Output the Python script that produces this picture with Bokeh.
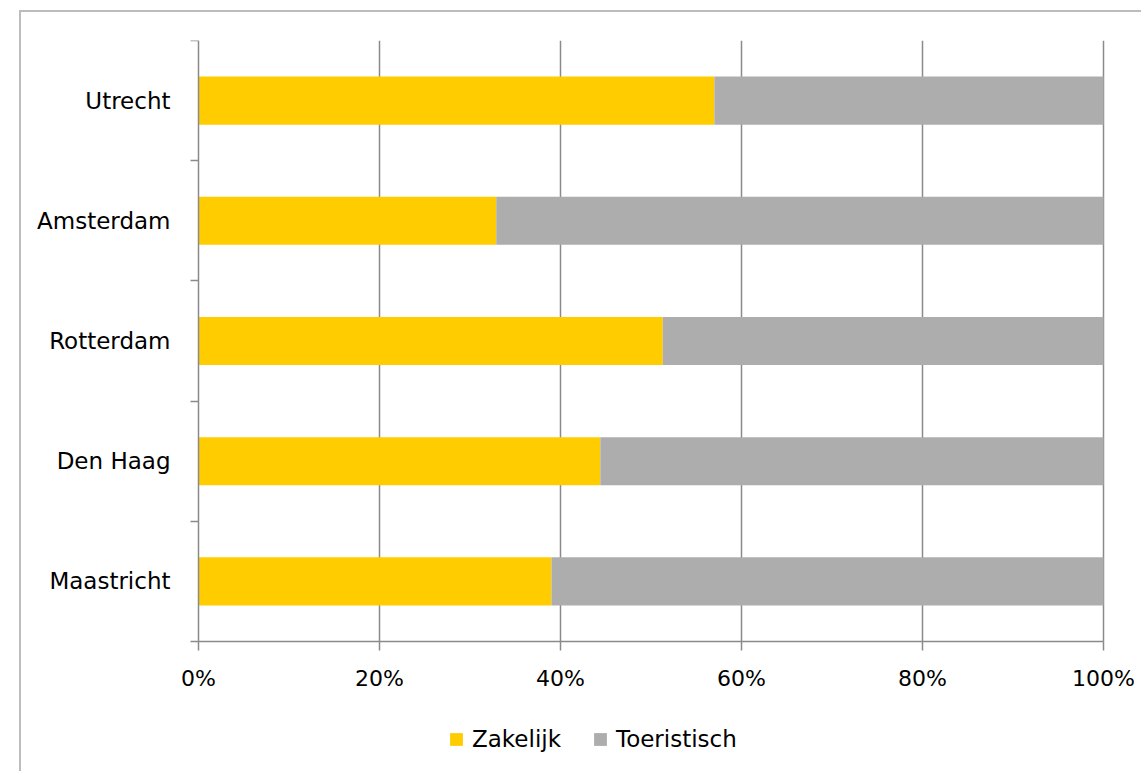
from bokeh.plotting import figure
from bokeh.models import ColumnDataSource, FixedTicker, Range1d, Legend, LegendItem
from bokeh.embed import file_html
from bokeh.resources import INLINE

# ---- data ----
cities = ["Utrecht", "Amsterdam", "Rotterdam", "Den Haag", "Maastricht"]
zakelijk = [57.0, 32.9, 51.3, 44.4, 39.0]
toeristisch = [43.0, 67.1, 48.7, 55.6, 61.0]
series = ["Zakelijk", "Toeristisch"]
colors = ["#FFCC00", "#ADADAD"]
x_ticks = [0, 20, 40, 60, 80, 100]
x_tick_labels = ["0%", "20%", "40%", "60%", "80%", "100%"]

n = len(cities)
ypos = [n - i - 0.5 for i in range(n)]
boundaries = [float(i) for i in range(n + 1)]

source = ColumnDataSource(dict(y=ypos, city=cities, Zakelijk=zakelijk, Toeristisch=toeristisch))
grid_source = ColumnDataSource(dict(x=x_ticks[1:], y0=[0] * (len(x_ticks) - 1), y1=[n] * (len(x_ticks) - 1)))

FONT = "DejaVu Sans"
AXIS_COLOR = "#8a8a8a"

# layout: the frame covers the whole canvas; axes are fixed at x=0 and y=0
CANVAS_W, CANVAS_H = 1122, 761
LEFT_PX, TOP_PX = 177, 28
PX_PER_X = 9.05
PX_PER_Y = 120.2
x_min = -LEFT_PX / PX_PER_X
x_max = (CANVAS_W - LEFT_PX) / PX_PER_X
y_min = n - (CANVAS_H - TOP_PX) / PX_PER_Y

p = figure(width=CANVAS_W, height=CANVAS_H, output_backend="svg", toolbar_location=None,
           x_range=Range1d(x_min, x_max), y_range=Range1d(y_min, n),
           min_border_left=0, min_border_top=TOP_PX, min_border_right=0, min_border_bottom=0)
p.margin = (10, 0, 0, 19)
p.styles = {"border-top": "2px solid #bcbcbc", "border-left": "2px solid #bcbcbc"}
p.outline_line_color = None
p.background_fill_color = "white"
p.border_fill_color = "white"
p.xgrid.grid_line_color = None
p.ygrid.grid_line_color = None

# vertical gridlines (only within the plotting area)
p.segment(x0="x", y0="y0", x1="x", y1="y1", source=grid_source, line_color=AXIS_COLOR, line_width=1.5)

renderers = p.hbar_stack(series, y="y", height=0.4, color=colors, source=source, line_color=None)

# x axis, fixed at y = 0
p.xaxis.fixed_location = 0
p.xaxis.bounds = (0, 100)
p.xaxis.ticker = FixedTicker(ticks=x_ticks, minor_ticks=[])
p.xaxis.major_label_overrides = {t: l for t, l in zip(x_ticks, x_tick_labels)}
p.xaxis.axis_line_color = AXIS_COLOR
p.xaxis.axis_line_width = 1.5
p.xaxis.major_tick_line_color = AXIS_COLOR
p.xaxis.major_tick_line_width = 1.5
p.xaxis.major_tick_out = 9
p.xaxis.major_tick_in = 0
p.xaxis.minor_tick_line_color = None
p.xaxis.major_label_standoff = 15
p.xaxis.major_label_text_font = FONT
p.xaxis.major_label_text_font_size = "22px"
p.xaxis.major_label_text_color = "#000000"

# y axis, fixed at x = 0
p.yaxis.fixed_location = 0
p.yaxis.ticker = FixedTicker(ticks=ypos, minor_ticks=boundaries)
p.yaxis.bounds = (0, n)
p.yaxis.major_label_overrides = {y: c for y, c in zip(ypos, cities)}
p.yaxis.axis_line_color = AXIS_COLOR
p.yaxis.axis_line_width = 1.5
p.yaxis.major_tick_line_color = None
p.yaxis.major_tick_out = 0
p.yaxis.major_tick_in = 0
p.yaxis.minor_tick_line_color = AXIS_COLOR
p.yaxis.minor_tick_line_width = 1.5
p.yaxis.minor_tick_out = 8
p.yaxis.minor_tick_in = 0
p.yaxis.major_label_standoff = 20
p.yaxis.major_label_text_font = FONT
p.yaxis.major_label_text_font_size = "23px"
p.yaxis.major_label_text_color = "#000000"

legend = Legend(items=[LegendItem(label=s, renderers=[r]) for s, r in zip(series, renderers)],
                orientation="horizontal", location=(427, 21))
legend.glyph_width = 16
legend.glyph_height = 16
legend.label_standoff = 8
legend.spacing = 31
legend.padding = 0
legend.margin = 0
legend.border_line_color = None
legend.background_fill_alpha = 0
legend.label_text_font = FONT
legend.label_text_font_size = "23px"
legend.label_text_color = "#000000"
p.add_layout(legend, "center")

open("out.html", "w").write(file_html(p, INLINE))
